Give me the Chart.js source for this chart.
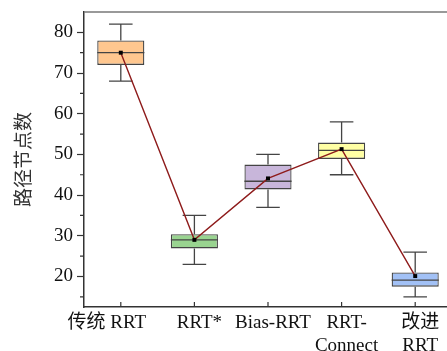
<!DOCTYPE html>
<html>
<head>
<meta charset="utf-8">
<script src="https://cdn.jsdelivr.net/npm/chart.js@4"></script>
<style>
  html, body { margin: 0; padding: 0; background: #fff; overflow: hidden; }
</style>
</head>
<body>
<canvas id="boxChart" width="456" height="351"></canvas>
<script>
// Box plot data
var categories = ['传统 RRT        ', 'RRT*', 'Bias-RRT', ['RRT-', 'Connect'], ['改进', 'RRT']];
var mins    = [68, 23, 37, 45, 15];
var q1s     = [72, 26.9, 41.4, 48.9, 17.5];
var medians = [75, 29, 43.4, 51, 19.1];
var q3s     = [78, 30.4, 47.5, 52.9, 21];
var maxs    = [82, 35, 50, 58, 26];
var means   = [75, 29, 44.1, 51.3, 20.1];
var boxColors = ['#FFC78F', '#99D490', '#C8B6DA', '#FFFFA4', '#A2C1F6'];
var majorTicks = [20, 30, 40, 50, 60, 70, 80];
var minorTicks = [15, 25, 35, 45, 55, 65, 75];

var FONT = "'Liberation Serif', 'Noto Sans CJK SC', serif";
var AXIS = '#333333';

// whiskers, caps and medians drawn right after the boxes
var boxExtras = {
    id: 'boxExtras',
    afterDatasetDraw: function (chart, args) {
        if (args.index !== 0) return;
        var ctx = chart.ctx;
        var y = chart.scales.y;
        var meta = chart.getDatasetMeta(0);
        ctx.save();
        ctx.strokeStyle = '#444444';
        ctx.lineWidth = 1.3;
        meta.data.forEach(function (bar, i) {
            var x = bar.x;
            var half = bar.width / 2;
            var cap = bar.width / 4;
            ctx.beginPath();
            ctx.moveTo(x, y.getPixelForValue(q3s[i]));
            ctx.lineTo(x, y.getPixelForValue(maxs[i]));
            ctx.moveTo(x, y.getPixelForValue(q1s[i]));
            ctx.lineTo(x, y.getPixelForValue(mins[i]));
            ctx.moveTo(x - cap, y.getPixelForValue(maxs[i]));
            ctx.lineTo(x + cap, y.getPixelForValue(maxs[i]));
            ctx.moveTo(x - cap, y.getPixelForValue(mins[i]));
            ctx.lineTo(x + cap, y.getPixelForValue(mins[i]));
            ctx.moveTo(x - half, y.getPixelForValue(medians[i]));
            ctx.lineTo(x + half, y.getPixelForValue(medians[i]));
            ctx.stroke();
        });
        ctx.restore();
    }
};

// top frame line, inward x ticks, minor y ticks
var frame = {
    id: 'frame',
    afterDraw: function (chart) {
        var ctx = chart.ctx;
        var area = chart.chartArea;
        var x = chart.scales.x;
        var y = chart.scales.y;
        ctx.save();
        ctx.strokeStyle = '#777777';
        ctx.lineWidth = 1.5;
        ctx.beginPath();
        ctx.moveTo(area.left, area.top);
        ctx.lineTo(area.right, area.top);
        ctx.stroke();
        ctx.strokeStyle = AXIS;
        ctx.lineWidth = 1.2;
        ctx.beginPath();
        categories.forEach(function (c, i) {
            var px = x.getPixelForValue(i);
            ctx.moveTo(px, area.bottom);
            ctx.lineTo(px, area.bottom - 5);
        });
        minorTicks.forEach(function (v) {
            var py = y.getPixelForValue(v);
            ctx.moveTo(area.left, py);
            ctx.lineTo(area.left - 4, py);
        });
        ctx.stroke();
        ctx.restore();
    }
};

new Chart(document.getElementById('boxChart'), {
    type: 'bar',
    data: {
        labels: categories,
        datasets: [
            {
                type: 'bar',
                data: q1s.map(function (q, i) { return [q, q3s[i]]; }),
                backgroundColor: boxColors,
                borderColor: '#444444',
                borderWidth: 1.3,
                borderSkipped: false,
                barPercentage: 0.64,
                categoryPercentage: 1,
                order: 2
            },
            {
                type: 'line',
                data: means,
                borderColor: '#8E1B1B',
                borderWidth: 1.4,
                pointStyle: 'rect',
                pointRadius: 2.8,
                pointBackgroundColor: '#000000',
                pointBorderColor: '#000000',
                pointBorderWidth: 0,
                tension: 0,
                order: 1
            }
        ]
    },
    options: {
        responsive: false,
        animation: false,
        layout: { padding: { top: 12, right: 0, bottom: 0, left: 0 } },
        plugins: {
            legend: { display: false },
            tooltip: { enabled: false }
        },
        scales: {
            x: {
                offset: true,
                grid: { display: false, drawTicks: false },
                border: { display: true, color: AXIS, width: 1.5 },
                ticks: {
                    color: '#111111',
                    padding: 5,
                    autoSkip: false,
                    maxRotation: 0,
                    labelOffset: 5,
                    font: { family: FONT, size: 19, lineHeight: 1.2 }
                },
                afterFit: function (scale) {
                    scale.height = 44;
                    scale.paddingLeft = 0;
                    scale.paddingRight = 0;
                }
            },
            y: {
                min: 12.5,
                max: 85,
                afterBuildTicks: function (scale) {
                    scale.ticks = majorTicks.map(function (v) { return { value: v }; });
                },
                grid: { drawOnChartArea: false, drawTicks: true, tickLength: 7, color: AXIS, tickWidth: 1.2 },
                border: { display: true, color: AXIS, width: 1.5 },
                ticks: {
                    color: '#111111',
                    padding: 4,
                    font: { family: FONT, size: 19 }
                },
                title: {
                    display: true,
                    text: '路径节点数',
                    color: '#333333',
                    padding: { top: 14, bottom: 0 },
                    font: { family: FONT, size: 19 }
                },
                afterFit: function (scale) {
                    scale.width = 84;
                    scale.paddingTop = 0;
                    scale.paddingBottom = 0;
                }
            }
        }
    },
    plugins: [boxExtras, frame]
});
</script>
</body>
</html>
